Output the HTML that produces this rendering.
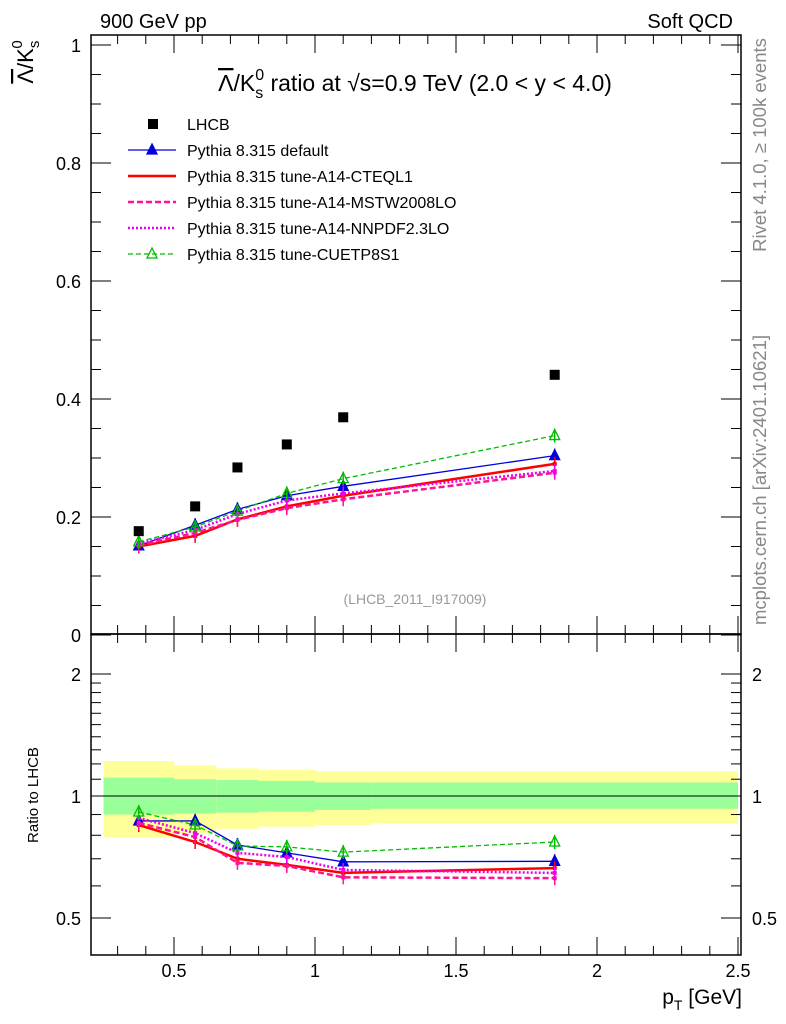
<!DOCTYPE html>
<html><head><meta charset="utf-8"><style>
body{margin:0;background:#fff;}
svg{display:block;font-family:"Liberation Sans",sans-serif;}
</style></head><body>
<svg id="c" width="786" height="1024" viewBox="0 0 786 1024">
<g id="bands"></g>
<g id="marks"></g>
<g id="axes"></g>
<text x="100" y="28" font-size="20">900 GeV pp</text>
<text x="733" y="28" font-size="20" text-anchor="end">Soft QCD</text>
<text x="415" y="91" font-size="23" text-anchor="middle"><tspan text-decoration="overline">Λ</tspan>/K<tspan font-size="16" dy="7">s</tspan><tspan font-size="16" dx="-8" dy="-18">0</tspan><tspan dy="11"> ratio at √s=0.9 TeV (2.0 &lt; y &lt; 4.0)</tspan></text>
<text transform="translate(33,62) rotate(-90)" font-size="22" text-anchor="middle"><tspan text-decoration="overline">Λ</tspan>/K<tspan font-size="15" dy="6">s</tspan><tspan font-size="15" dx="-8" dy="-17">0</tspan></text>
<text transform="translate(38,795) rotate(-90)" font-size="15" text-anchor="middle">Ratio to LHCB</text>
<text x="742" y="1004" font-size="21" text-anchor="end">p<tspan font-size="14" dy="6">T</tspan><tspan dy="-6"> [GeV]</tspan></text>
<text x="415" y="604" font-size="14" fill="#999" text-anchor="middle">(LHCB_2011_I917009)</text>
<text transform="translate(766,145) rotate(-90)" font-size="18.5" fill="#888" text-anchor="middle">Rivet 4.1.0, ≥ 100k events</text>
<text transform="translate(766,480) rotate(-90)" font-size="18.5" fill="#888" text-anchor="middle">mcplots.cern.ch [arXiv:2401.10621]</text>
<g id="legend"></g>
</svg>
<script>
const xVals=[0.375,0.575,0.725,0.9,1.1,1.85];
const lhcb=[0.176,0.218,0.284,0.323,0.369,0.441];
const pDefault=[0.151,0.186,0.213,0.236,0.252,0.304];
const pCTEQ=[0.150,0.168,0.196,0.218,0.236,0.290];
const pMSTW=[0.152,0.173,0.195,0.215,0.230,0.275];
const pNNPDF=[0.155,0.178,0.205,0.228,0.240,0.278];
const pCUET=[0.158,0.183,0.210,0.240,0.265,0.338];
const rDefault=[0.868,0.868,0.757,0.724,0.688,0.69];
const rCTEQ=[0.848,0.77,0.70,0.676,0.646,0.664];
const rMSTW=[0.858,0.792,0.684,0.672,0.63,0.627];
const rNNPDF=[0.883,0.81,0.724,0.707,0.657,0.646];
const rCUET=[0.913,0.848,0.753,0.749,0.727,0.77];
const binEdges=[0.25,0.5,0.65,0.8,1.0,1.2,2.5];
const yelHi=[1.22,1.19,1.17,1.16,1.15,1.15];
const grnHi=[1.11,1.10,1.095,1.09,1.08,1.08];
const grnLo=[0.90,0.905,0.91,0.915,0.924,0.93];
const yelLo=[0.79,0.81,0.83,0.84,0.848,0.856];
const xTicks=[0.5,1,1.5,2,2.5];
const xTickLabels=["0.5","1","1.5","2","2.5"];
const yTicks=[0,0.2,0.4,0.6,0.8,1];
const yTickLabels=["0","0.2","0.4","0.6","0.8","1"];
const rTicks=[0.5,1,2];
const rTickLabels=["0.5","1","2"];

const L=91,R=741,T=35,M=634,B=955;
const X=v=>33+282*v;
const Y=v=>635-590*v;
const RY=v=>796-122*Math.log2(v);
const NS="http://www.w3.org/2000/svg";
function el(t,a,p){const e=document.createElementNS(NS,t);for(const k in a)e.setAttribute(k,a[k]);p.appendChild(e);return e;}
const bands=document.getElementById('bands'),marks=document.getElementById('marks'),axes=document.getElementById('axes'),leg=document.getElementById('legend');

for(let i=0;i<6;i++){
 const x0=X(binEdges[i]),w=X(binEdges[i+1])-x0;
 let r=el('rect',{x:x0,y:RY(yelHi[i]),width:w,height:RY(yelLo[i])-RY(yelHi[i]),fill:'#ffff99'},bands);
 
 
 r=el('rect',{x:x0,y:RY(grnHi[i]),width:w,height:RY(grnLo[i])-RY(grnHi[i]),fill:'#99ff99'},bands);
 
 
}
let ln=el('line',{x1:L,x2:R,y1:RY(1),y2:RY(1),stroke:'#000','stroke-width':1},bands);



const series=[
 {name:'default',v:pDefault,r:rDefault,c:'#0000dd',w:1.3,d:'',m:'tri'},
 {name:'cteql1',v:pCTEQ,r:rCTEQ,c:'#ff0000',w:2.5,d:'',m:'none'},
 {name:'mstw2008lo',v:pMSTW,r:rMSTW,c:'#ff1493',w:2.5,d:'6,3',m:'none'},
 {name:'nnpdf23lo',v:pNNPDF,r:rNNPDF,c:'#ee00ee',w:2.5,d:'2,2',m:'none'},
 {name:'cuetp8s1',v:pCUET,r:rCUET,c:'#00bb00',w:1.3,d:'5,3',m:'otri'}
];
function tri(x,y,c,open,p,nm){
 const t=el('polygon',{points:`${x},${y-6} ${x-5},${y+4} ${x+5},${y+4}`,fill:open?'none':c,stroke:c,'stroke-width':1.3},p);
 
 
}
function drawSeries(s,vals,yf,tag){
 const pts=vals.map((v,i)=>X(xVals[i])+','+yf(v)).join(' ');
 const pl=el('polyline',{points:pts,fill:'none',stroke:s.c,'stroke-width':s.w,'stroke-dasharray':s.d},marks);
 
 
 vals.forEach((v,i)=>{
  const x=X(xVals[i]),y=yf(v);
  const eb=el('line',{x1:x,x2:x,y1:y-7,y2:y+7,stroke:s.c,'stroke-width':1.5},marks);
  
  
  if(s.m==='tri')tri(x,y,s.c,false,marks,tag+'-point-'+s.name);
  else if(s.m==='otri')tri(x,y,s.c,true,marks,tag+'-point-'+s.name);
  else{const sq=el('rect',{x:x-2,y:y-2,width:4,height:4,fill:s.c},marks);
   
   }
 });
}
series.forEach(s=>{drawSeries(s,s.v,Y,'main');drawSeries(s,s.r,RY,'ratio');});
lhcb.forEach((v,i)=>{
 const q=el('rect',{x:X(xVals[i])-5,y:Y(v)-5,width:10,height:10,fill:'#000'},marks);
 
 
});

[[T,M],[M,B]].forEach(([a,b])=>{
 const f=el('rect',{x:L,y:a,width:R-L,height:b-a,fill:'none',stroke:'#000','stroke-width':1.5},axes);
 
 
});
for(let v=0.3;v<=2.5001;v+=0.1){
 const x=X(v),maj=Math.abs(v*2-Math.round(v*2))<1e-6,h=maj?18:9;
 [[T,1],[M,-1],[M,1],[B,-1]].forEach(([y0,s])=>{
  const t=el('line',{x1:x,x2:x,y1:y0,y2:y0+s*h,stroke:'#000','stroke-width':1},axes);
  
  
 });
}
xTicks.forEach((v,i)=>{
 const t=el('text',{x:X(v),y:977,'font-size':18,'text-anchor':'middle'},axes);t.textContent=xTickLabels[i];
 
 
});
for(let v=0;v<=1.0001;v+=0.05){
 const y=Y(v),maj=Math.abs(v*5-Math.round(v*5))<1e-6,h=maj?20:10;
 [[L,1],[R,-1]].forEach(([x0,s])=>{
  const t=el('line',{x1:x0,x2:x0+s*h,y1:y,y2:y,stroke:'#000','stroke-width':1},axes);
  
  
 });
}
yTicks.forEach((v,i)=>{
 const t=el('text',{x:81,y:Y(v)+7,'font-size':18,'text-anchor':'end'},axes);t.textContent=yTickLabels[i];
 
 
});
[0.5,0.6,0.7,0.8,0.9,1,1.1,1.2,1.3,1.4,1.5,1.6,1.7,1.8,1.9,2].forEach(v=>{
 const maj=rTicks.includes(v),h=maj?20:10,y=RY(v);
 [[L,1],[R,-1]].forEach(([x0,s])=>{
  const t=el('line',{x1:x0,x2:x0+s*h,y1:y,y2:y,stroke:'#000','stroke-width':1},axes);
  
  
 });
});
rTicks.forEach((v,i)=>{
 [[81,'end'],[752,'start']].forEach(([x,a])=>{
  const t=el('text',{x:x,y:RY(v)+7,'font-size':18,'text-anchor':a},axes);t.textContent=rTickLabels[i];
  
  
 });
});
const legItems=[
 {t:'LHCB',c:'#000',w:0,d:'',m:'sq'},
 {t:'Pythia 8.315 default',c:'#0000dd',w:1.3,d:'',m:'tri'},
 {t:'Pythia 8.315 tune-A14-CTEQL1',c:'#ff0000',w:2.5,d:'',m:''},
 {t:'Pythia 8.315 tune-A14-MSTW2008LO',c:'#ff1493',w:2.5,d:'6,3',m:''},
 {t:'Pythia 8.315 tune-A14-NNPDF2.3LO',c:'#ee00ee',w:2.5,d:'2,2',m:''},
 {t:'Pythia 8.315 tune-CUETP8S1',c:'#00bb00',w:1.3,d:'5,3',m:'otri'}
];
legItems.forEach((it,i)=>{
 const y=124+i*26;
 if(it.m==='sq'){const q=el('rect',{x:148,y:y-5,width:10,height:10,fill:'#000'},leg);
  
  }
 else{const l=el('line',{x1:128,x2:176,y1:y,y2:y,stroke:it.c,'stroke-width':it.w,'stroke-dasharray':it.d},leg);
  
  
  if(it.m==='tri')tri(152,y,it.c,false,leg,'legend-marker');
  if(it.m==='otri')tri(152,y,it.c,true,leg,'legend-marker');}
 const t=el('text',{x:187,y:y+6,'font-size':16},leg);t.textContent=it.t;
 
 
});
</script>
</body></html>
